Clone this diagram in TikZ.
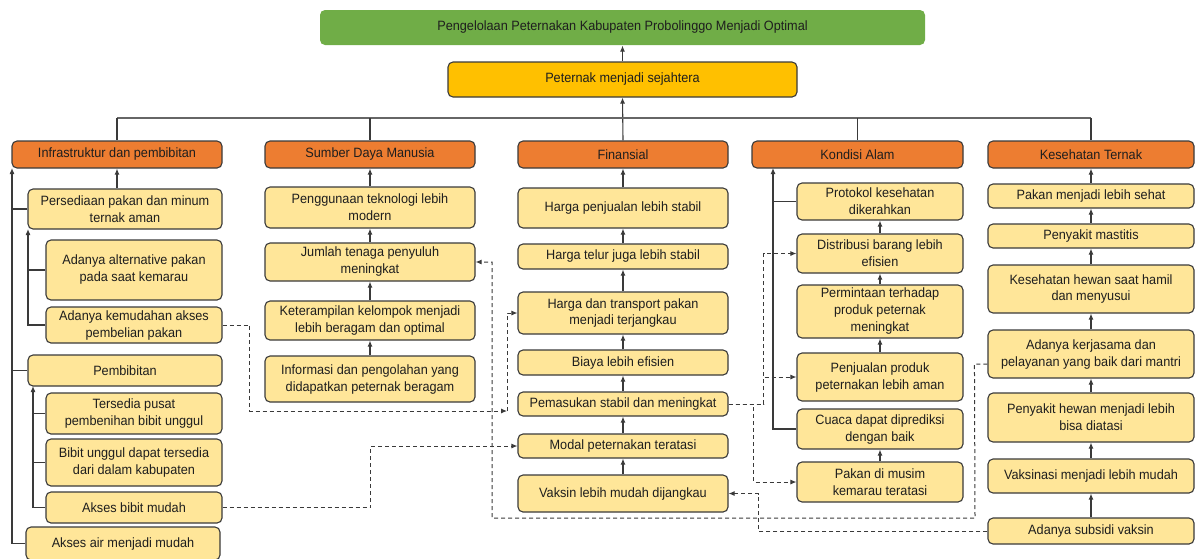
\documentclass[tikz,border=0pt]{standalone}
\usepackage{fontspec}
\setmainfont[FakeStretch=0.94]{Liberation Sans}
\usetikzlibrary{arrows.meta}
\definecolor{yel}{HTML}{FFE699}
\definecolor{org}{HTML}{ED7D31}
\definecolor{gold}{HTML}{FFC000}
\definecolor{grn}{HTML}{70AD47}
\definecolor{linec}{HTML}{3A3A3A}
\definecolor{txt}{HTML}{1E1E1E}
\newcommand\fs{\fontsize{13.5}{17}\selectfont}
\newcommand\mybox[7]{\node[#2, minimum width={(#5-#3)*1pt}, minimum height={(#6-#4)*1pt}] (#1) at ({(#3+#5)/2},{(#4+#6)/2}) {#7};}
\tikzset{
  base/.style={rounded corners=5pt, draw=linec, line width=1.1pt, align=center, inner sep=0pt, text=txt, font=\fs},
  ybox/.style={base, fill=yel},
  obox/.style={base, fill=org},
  sbox/.style={base, fill=gold},
  gbox/.style={base, fill=grn, draw=none},
  ln/.style={draw=linec, line width=1.1pt},
  arr/.style={ln, -{Latex[length=6pt,width=5pt]}},
  dl/.style={draw=linec, line width=1pt, dash pattern=on 4pt off 3pt},
  darr/.style={dl, -{Latex[length=6pt,width=5pt]}},
}
\begin{document}
\begin{tikzpicture}[x=1pt,y=-1pt]
\useasboundingbox (0,0) rectangle (1196,558);
% top
\mybox{g}{gbox}{320}{10}{925}{45}{Pengelolaan Peternakan Kabupaten Probolinggo Menjadi Optimal}
\mybox{s}{sbox}{448}{62}{797}{97}{Peternak menjadi sejahtera}
% categories
\mybox{c1}{obox}{12}{141}{222}{168}{Infrastruktur dan pembibitan}
\mybox{c2}{obox}{265}{141}{475}{168}{Sumber Daya Manusia}
\mybox{c3}{obox}{518}{141}{728}{168}{Finansial}
\mybox{c4}{obox}{752}{141}{963}{168}{Kondisi Alam}
\mybox{c5}{obox}{988}{141}{1194}{168}{Kesehatan Ternak}
% column 1
\mybox{a1}{ybox}{28}{189}{222}{229}{Persediaan pakan dan minum\\ternak aman}
\mybox{a2}{ybox}{46}{240}{222}{300}{Adanya alternative pakan\\pada saat kemarau}
\mybox{a3}{ybox}{46}{307}{222}{343}{Adanya kemudahan akses\\pembelian pakan}
\mybox{a4}{ybox}{28}{355}{222}{386}{Pembibitan}
\mybox{a5}{ybox}{46}{393}{222}{434}{Tersedia pusat\\pembenihan bibit unggul}
\mybox{a6}{ybox}{46}{439}{222}{486}{Bibit unggul dapat tersedia\\dari dalam kabupaten}
\mybox{a7}{ybox}{46}{492}{222}{523}{Akses bibit mudah}
\mybox{a8}{ybox}{26}{527}{220}{560}{Akses air menjadi mudah}
% column 2
\mybox{b1}{ybox}{265}{187}{475}{228}{Penggunaan teknologi lebih\\modern}
\mybox{b2}{ybox}{265}{243}{475}{281}{Jumlah tenaga penyuluh\\meningkat}
\mybox{b3}{ybox}{265}{301}{475}{340}{Keterampilan kelompok menjadi\\lebih beragam dan optimal}
\mybox{b4}{ybox}{265}{356}{475}{402}{Informasi dan pengolahan yang\\didapatkan peternak beragam}
% column 3
\mybox{d1}{ybox}{518}{188}{728}{228}{Harga penjualan lebih stabil}
\mybox{d2}{ybox}{518}{244}{728}{269}{Harga telur juga lebih stabil}
\mybox{d3}{ybox}{518}{292}{728}{334}{Harga dan transport pakan\\menjadi terjangkau}
\mybox{d4}{ybox}{518}{350}{728}{375}{Biaya lebih efisien}
\mybox{d5}{ybox}{518}{392}{728}{416}{Pemasukan stabil dan meningkat}
\mybox{d6}{ybox}{518}{434}{728}{458}{Modal peternakan teratasi}
\mybox{d7}{ybox}{518}{475}{728}{512}{Vaksin lebih mudah dijangkau}
% column 4
\mybox{e1}{ybox}{797}{183}{963}{220}{Protokol kesehatan\\dikerahkan}
\mybox{e2}{ybox}{797}{234}{963}{273}{Distribusi barang lebih\\efisien}
\mybox{e3}{ybox}{797}{285}{963}{338}{Permintaan terhadap\\produk peternak\\meningkat}
\mybox{e4}{ybox}{797}{353}{963}{401}{Penjualan produk\\peternakan lebih aman}
\mybox{e5}{ybox}{797}{409}{963}{449}{Cuaca dapat diprediksi\\dengan baik}
\mybox{e6}{ybox}{797}{462}{963}{502}{Pakan di musim\\kemarau teratasi}
% column 5
\mybox{f1}{ybox}{988}{184}{1194}{208}{Pakan menjadi lebih sehat}
\mybox{f2}{ybox}{988}{224}{1194}{248}{Penyakit mastitis}
\mybox{f3}{ybox}{988}{265}{1194}{313}{Kesehatan hewan saat hamil\\dan menyusui}
\mybox{f4}{ybox}{988}{330}{1194}{378}{Adanya kerjasama dan\\pelayanan yang baik dari mantri}
\mybox{f5}{ybox}{988}{393}{1194}{442}{Penyakit hewan menjadi lebih\\bisa diatasi}
\mybox{f6}{ybox}{988}{459}{1194}{493}{Vaksinasi menjadi lebih mudah}
\mybox{f7}{ybox}{988}{518}{1194}{544}{Adanya subsidi vaksin}
% top connectors
\draw[arr] (s.north) -- (g.south);
\draw[arr] (c3.north) -- (s.south);
\coordinate (busL) at (117,118);
\coordinate (busR) at (1091,118);
\draw[ln, line width=1.6pt, draw=black!60] (busL) -- (busR);
\draw[ln] (busL) -- (c1.north);
\draw[ln] (c2.north |- busL) -- (c2.north);
\draw[ln] (c4.north |- busL) -- (c4.north);
\draw[ln] (busR) -- (c5.north);
% column 1
\draw[arr] (c1.south |- a1.north) -- (c1.south);
\draw[arr] (a8.west) -- (12,543.5) -- (12,168);
\draw[ln] (a1.west) -- (12,209);
\draw[ln] (a4.west) -- (12,370.5);
\draw[arr] (a3.west) -- (28,325) -- (28,229);
\draw[ln] (a2.west) -- (28,270);
\draw[arr] (a7.west) -- (33,507.5) -- (33,386);
\draw[ln] (a5.west) -- (33,413.5);
\draw[ln] (a6.west) -- (33,462.5);
% column 2
\draw[arr] (b4.north) -- (b3.south);
\draw[arr] (b3.north) -- (b2.south);
\draw[arr] (b2.north) -- (b1.south);
\draw[arr] (b1.north) -- (c2.south);
% column 3
\draw[arr] (d7.north) -- (d6.south);
\draw[arr] (d6.north) -- (d5.south);
\draw[arr] (d5.north) -- (d4.south);
\draw[arr] (d4.north) -- (d3.south);
\draw[arr] (d3.north) -- (d2.south);
\draw[arr] (d2.north) -- (d1.south);
\draw[arr] (d1.north) -- (c3.south);
% column 4
\draw[arr] (e6.north) -- (e5.south);
\draw[arr] (e4.north) -- (e3.south);
\draw[arr] (e3.north) -- (e2.south);
\draw[arr] (e2.north) -- (e1.south);
\draw[arr] (e5.west) -- (773,429) -- (773,168);
\draw[ln] (e1.west) -- (773,201.5);
% column 5
\draw[arr] (f7.north) -- (f6.south);
\draw[arr] (f6.north) -- (f5.south);
\draw[arr] (f5.north) -- (f4.south);
\draw[arr] (f4.north) -- (f3.south);
\draw[arr] (f3.north) -- (f2.south);
\draw[arr] (f2.north) -- (f1.south);
\draw[arr] (f1.north) -- (c5.south);
% dashed connectors
\coordinate (j1) at (507,411);
\draw[darr] (a3.east) -- ++(27,0) |- (j1);
\draw[darr] (j1) |- (d3.west);
\draw[darr] (a7.east) -- ++(148,0) |- (d6.west);
\draw[darr] (d5.east) -- ++(35,0) |- (e2.west);
\draw[darr] (d5.east) -- ++(35,0) |- (e4.west);
\draw[darr] (d5.east) -- ++(25,0) |- (e6.west);
\draw[darr] (f7.west) -- ++(-229,0) |- (d7.east);
\draw[darr] ([yshift=-10pt]f4.west) -- ++(-13,0) -- (975,518) -- (492,518) |- (b2.east);
\end{tikzpicture}
\end{document}
